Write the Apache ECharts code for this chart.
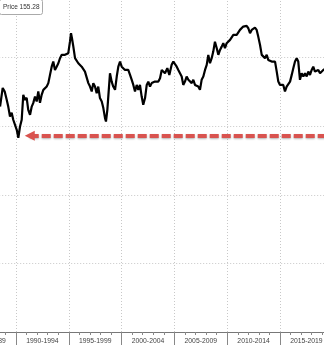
<!DOCTYPE html>
<html>
<head>
<meta charset="utf-8">
<style>html,body{margin:0;padding:0;background:#fff;}#c{width:324px;height:345px;}</style>
<script src="https://cdn.jsdelivr.net/npm/echarts@6/dist/echarts.min.js"></script>
</head>
<body>
<div id="c"></div>
<script>
// USD/JPY (axis inverted), years as decimal
var years = [1988.49,1988.74,1988.93,1989.12,1989.27,1989.43,1989.59,1989.74,1989.91,1990.07,
1990.22,1990.38,1990.54,1990.69,1990.85,1991.01,1991.16,1991.33,1991.49,1991.64,
1991.80,1991.96,1992.11,1992.27,1992.43,1992.59,1992.75,1992.91,1993.06,1993.22,
1993.38,1993.53,1993.69,1993.85,1994.01,1994.17,1994.33,1994.48,1994.64,1994.80,
1994.95,1995.11,1995.21,1995.30,1995.43,1995.59,1995.75,1995.90,1996.06,1996.22,
1996.37,1996.53,1996.70,1996.85,1997.01,1997.17,1997.32,1997.48,1997.64,1997.79,
1997.95,1998.12,1998.27,1998.43,1998.52,1998.65,1998.74,1998.90,1999.06,1999.21,
1999.38,1999.54,1999.69,1999.85,2000.01,2000.16,2000.32,2000.48,2000.63,2000.80,
2000.96,2001.11,2001.27,2001.43,2001.58,2001.74,2001.90,2002.05,2002.22,2002.38,
2002.53,2002.69,2002.85,2003.00,2003.16,2003.32,2003.48,2003.64,2003.80,2003.95,
2004.11,2004.33,2004.52,2004.74,2004.90,2005.06,2005.22,2005.37,2005.53,2005.69,
2005.84,2006.00,2006.16,2006.32,2006.48,2006.64,2006.79,2006.95,2007.11,2007.26,
2007.42,2007.58,2007.74,2007.90,2008.06,2008.21,2008.37,2008.53,2008.68,2008.84,
2009.01,2009.16,2009.32,2009.48,2009.63,2009.79,2009.95,2010.10,2010.27,2010.43,
2010.58,2010.74,2010.90,2011.05,2011.21,2011.37,2011.52,2011.69,2011.84,2012.00,
2012.16,2012.32,2012.47,2012.63,2012.79,2012.94,2013.11,2013.27,2013.42,2013.58,
2013.74,2013.89,2014.05,2014.21,2014.36,2014.53,2014.69,2014.84,2015.00,2015.16,
2015.31,2015.47,2015.63,2015.79,2015.95,2016.11,2016.26,2016.42,2016.58,2016.73,
2016.89,2017.05,2017.21,2017.37,2017.53,2017.68,2017.84,2018.00,2018.15,2018.31,
2018.47,2018.63,2018.79,2018.94,2019.10,2019.30];
var usdjpy = [135.7,122.1,124.7,130.8,135.9,142.9,140.2,145.3,143.9,152.6,
158.4,150.2,145.3,127.1,130.8,129.3,138.1,141.7,135.7,133.0,
128.4,132.0,124.7,133.0,127.1,123.5,124.7,121.1,118.6,112.6,
106.6,102.9,109.0,106.6,104.1,100.4,98.0,99.3,98.0,99.3,
96.8,88.4,82.2,85.9,92.0,100.4,101.7,104.1,105.3,106.6,
107.7,110.2,111.4,118.6,121.1,124.7,118.6,121.1,125.9,121.1,
129.5,132.0,136.8,144.1,146.6,138.1,128.4,111.4,117.5,121.1,
123.5,113.8,106.6,102.9,106.6,105.3,109.0,107.7,109.0,112.6,
116.2,119.9,124.7,119.9,123.5,119.9,128.4,134.4,129.5,119.9,
117.5,121.1,118.6,119.9,117.5,116.2,117.5,115.0,109.0,107.7,
111.4,107.7,112.6,105.3,102.9,104.8,106.6,109.0,111.4,113.8,
119.9,117.5,113.8,116.2,115.0,118.6,116.2,119.9,118.6,121.1,
123.5,116.2,113.8,109.0,105.3,98.0,104.1,100.4,95.6,88.4,
93.2,98.0,94.4,92.0,89.5,93.2,89.5,90.8,87.1,85.9,
83.5,82.2,83.5,82.2,79.8,78.6,77.4,78.2,76.9,78.6,
82.2,79.8,78.6,78.2,79.8,84.7,90.8,98.0,96.8,100.4,
98.0,101.7,100.4,102.9,102.9,102.9,110.2,117.5,119.9,121.1,
119.9,124.7,121.1,119.9,117.5,112.6,107.7,102.9,100.4,102.9,
116.2,111.4,113.8,111.4,113.8,110.2,112.6,109.0,106.6,110.2,
111.4,109.0,111.4,110.2,109.0,108.0];
var periodLabels = ['1985-1989','1990-1994','1995-1999','2000-2004','2005-2009','2010-2014','2015-2019'];
var arrowLevel = 157;
var arrowFrom = 1991.3;
var arrowTo = 2020;
var priceText = 'Price 155.28';

var seriesData = years.map(function (y, i) { return [y, usdjpy[i]]; });

var chart = echarts.init(document.getElementById('c'), null, {renderer: 'canvas'});
chart.setOption({
  animation: false,
  backgroundColor: '#fff',
  title: {
    text: priceText,
    left: -1, top: -1,
    padding: [5, 3, 4, 4],
    borderColor: '#aaa', borderWidth: 1, borderRadius: 2,
    backgroundColor: '#fff',
    textStyle: {fontSize: 6.5, fontWeight: 'normal', color: '#333', fontFamily: 'Liberation Sans'}
  },
  grid: {left: -36.8, right: -8.8, top: -11, bottom: 13, containLabel: false, outerBoundsMode: 'none'},
  xAxis: [{
    type: 'value', min: 1985, max: 2020, interval: 5, position: 'bottom',
    axisLine: {show: true, onZero: false, lineStyle: {color: '#777', width: 1}},
    axisTick: {show: false},
    minorTick: {show: true, splitNumber: 5, length: 3, lineStyle: {color: '#888'}},
    axisLabel: {show: false},
    splitLine: {show: true, lineStyle: {type: [1, 2], color: '#c8c8c8', width: 1}}
  }, {
    type: 'category', data: periodLabels, position: 'bottom', boundaryGap: true,
    axisLine: {show: false},
    axisTick: {show: true, length: 14, inside: false, lineStyle: {color: '#888'}},
    axisLabel: {show: true, interval: 0, margin: 6, fontSize: 6.8, color: '#444', fontFamily: 'Liberation Sans'},
    splitLine: {show: false}
  }],
  yAxis: {
    type: 'value', min: 50, max: 300, interval: 50, inverse: true,
    axisLine: {show: false}, axisTick: {show: false}, axisLabel: {show: false},
    splitLine: {show: true, lineStyle: {type: [1, 2], color: '#c8c8c8', width: 1}}
  },
  series: [{
    type: 'line', xAxisIndex: 0, data: seriesData, showSymbol: false,
    lineStyle: {color: '#000', width: 2.2}, z: 5,
    markLine: {
      silent: true, animation: false,
      symbol: ['triangle', 'none'], symbolSize: [10, 10],
      label: {show: false},
      lineStyle: {color: '#d9534f', width: 4, type: [9, 3], opacity: 1,
        shadowColor: 'rgba(0,0,0,0.3)', shadowBlur: 2, shadowOffsetY: 1},
      data: [[{coord: [arrowFrom, arrowLevel]}, {coord: [arrowTo, arrowLevel]}]]
    }
  }]
});
</script>
</body>
</html>
